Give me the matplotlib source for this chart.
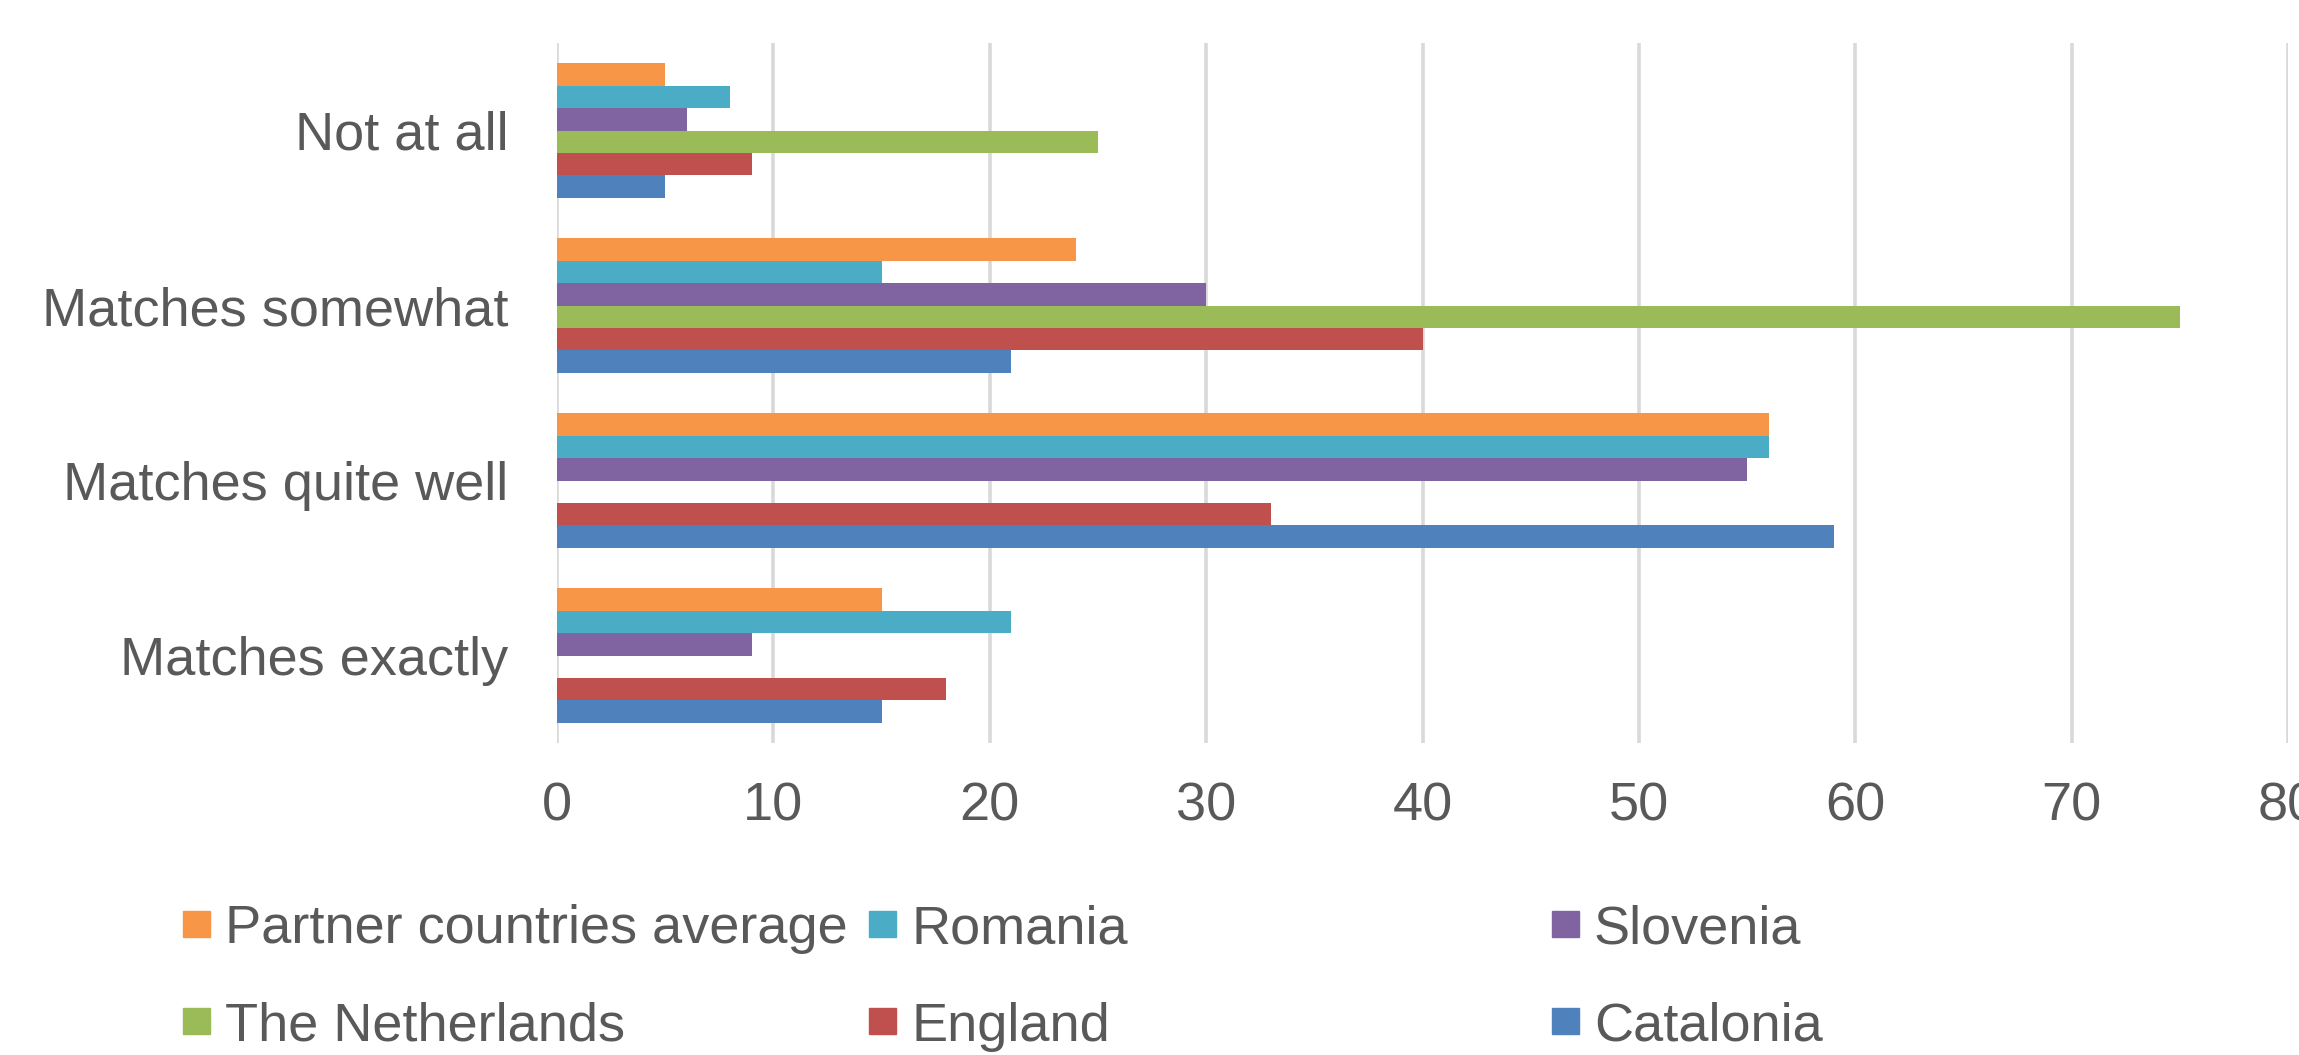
import numpy as np
import matplotlib
matplotlib.use('Agg')
import matplotlib.pyplot as plt
from matplotlib.patches import Rectangle

plt.rcParams['font.family'] = ['Liberation Sans', 'DejaVu Sans']

# categories listed bottom -> top (as drawn by the original)
categories = ['Matches exactly', 'Matches quite well', 'Matches somewhat', 'Not at all']

# series listed bottom -> top within each group
series = ['Catalonia', 'England', 'The Netherlands', 'Slovenia', 'Romania', 'Partner countries average']
catalonia = [15, 59, 21, 5]
england = [18, 33, 40, 9]
netherlands = [0, 0, 75, 25]
slovenia = [9, 55, 30, 6]
romania = [21, 56, 15, 8]
partner = [15, 56, 24, 5]
values = [catalonia, england, netherlands, slovenia, romania, partner]
colors = ['#4F81BD', '#C0504D', '#9BBB59', '#8064A2', '#4BACC6', '#F79646']

xticks = [0, 10, 20, 30, 40, 50, 60, 70, 80]

W, H = 2299, 1055
TEXT = '#595959'
FS = 39

fig = plt.figure(figsize=(W / 100, H / 100), dpi=100)
ax = fig.add_axes([557 / W, 1 - 743 / H, (2288 - 557) / W, 700 / H])

group = 0.766
h = group / len(series)
ypos = np.arange(len(categories))
for k, (vals, col) in enumerate(zip(values, colors)):
    ax.barh(ypos + (k - (len(series) - 1) / 2) * h, vals, height=h, color=col,
            linewidth=0, zorder=3)

ax.set_xlim(0, 80)
ax.set_ylim(-0.5, len(categories) - 0.5)
ax.set_xticks(xticks)
ax.set_xticklabels([str(t) for t in xticks])
ax.set_yticks(ypos)
ax.set_yticklabels(categories)
ax.tick_params(axis='x', length=0, pad=28, labelsize=FS, labelcolor=TEXT)
ax.tick_params(axis='y', length=0, pad=35, labelsize=FS, labelcolor=TEXT)
ax.grid(axis='x', color='#D9D9D9', linewidth=2.6, zorder=0)
ax.set_axisbelow(True)
for s in ax.spines.values():
    s.set_visible(False)

# legend drawn by hand to match the uneven column layout of the original
legend_rows = [['Partner countries average', 'Romania', 'Slovenia'],
               ['The Netherlands', 'England', 'Catalonia']]
col_x = [183, 869, 1552]
row_y = [924, 1021]
color_of = dict(zip(series, colors))
for r, row in enumerate(legend_rows):
    for c, name in enumerate(row):
        x0 = col_x[c]
        yc = row_y[r]
        fig.add_artist(Rectangle((x0 / W, 1 - (yc + 13) / H), 27 / W, 26 / H,
                                 transform=fig.transFigure, color=color_of[name]))
        fig.text((x0 + 42) / W, 1 - yc / H, name, fontsize=FS, color=TEXT,
                 ha='left', va='center_baseline')

fig.savefig('out.png', dpi=100)
